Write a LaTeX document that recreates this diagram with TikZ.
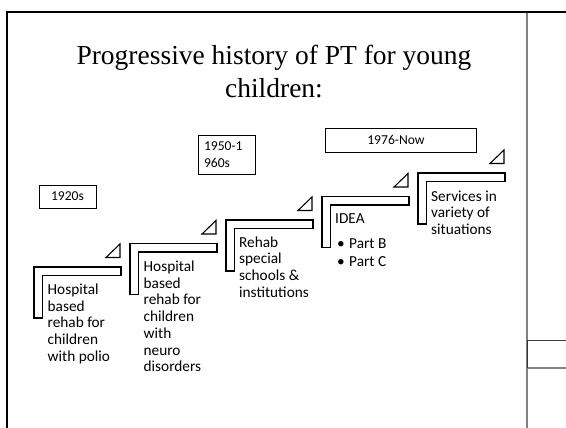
\documentclass[tikz,border=0pt]{standalone}
\usepackage{fontspec}
\setmainfont{Liberation Serif}
\newfontfamily\bodyfont{Carlito}
\begin{document}
\begin{tikzpicture}[x=1pt,y=-1pt,
  stepshape/.style={draw=black, line width=1.1pt, fill=white},
  steptext/.style={font=\bodyfont\fontsize{15.3}{16.7}\selectfont, align=left, anchor=base west, inner sep=0pt},
  yearbox/.style={draw=black, line width=0.9pt, font=\bodyfont\fontsize{13.6}{16.6}\selectfont, inner sep=0pt},
  titletext/.style={font=\fontsize{27.5}{33}\selectfont, align=center, anchor=base, inner sep=0pt}]
\useasboundingbox (0,0) rectangle (566,428);
\fill[white] (0,0) rectangle (566,428);
% frame
\draw[line width=2pt] (7,428) -- (7,12) -- (566,12);
\draw[line width=1.5pt, color=black!50] (527,13) -- (527,428);
\draw[line width=0.9pt, color=black!75] (527,340) -- (566,340);
\draw[line width=1.2pt, color=black!50] (527,368) -- (566,368);
\draw[line width=0.9pt, color=black!80] (527,340) -- (527,368);
% title (base anchor = baseline of the last line)
\node[titletext] (title) at (274,98) {Progressive history of PT for young\\children:};
% steps
\foreach \i in {0,...,4}{
  \begin{scope}[shift={({34+96*\i},{267-23.5*\i})}]
    \draw[stepshape] (0,0) -- (87,0) -- (87,8.5) -- (8.5,8.5) -- (8.5,51) -- (0,51) -- cycle;
    \draw[stepshape] (72,-9.5) -- (86,-9.5) -- (86,-23) -- cycle;
  \end{scope}
}
% step texts (base anchor = baseline of the last line)
\node[steptext] (t1) at (47.5,361.3) {Hospital\\based\\rehab for\\children\\with polio};
\node[steptext] (t2) at (143.5,371.7) {Hospital\\based\\rehab for\\children\\with\\neuro\\disorders};
\node[steptext] (t3) at (239,297.1) {Rehab\\special\\schools \&\\institutions};
\node[steptext] (t4) at (335,223) {IDEA};
\node[steptext] (t4b) at (337,248) {\makebox[12pt][l]{•}Part B};
\node[steptext] (t4c) at (337,266) {\makebox[12pt][l]{•}Part C};
\node[steptext] (t5) at (431,234.4) {Services in\\variety of\\situations};
% year boxes
\node[yearbox, minimum width=57pt, minimum height=23pt] (y1) at (67.5,196.5) {1920s};
\node[yearbox, minimum width=57pt, minimum height=39pt, text width=45pt, align=left] (y2) at (226.5,154.5) {1950-1\\960s};
\node[yearbox, minimum width=151pt, minimum height=24pt] (y3) at (400.5,140) {\raisebox{-2pt}{\hspace*{-9pt}1976-Now}};
\end{tikzpicture}
\end{document}
